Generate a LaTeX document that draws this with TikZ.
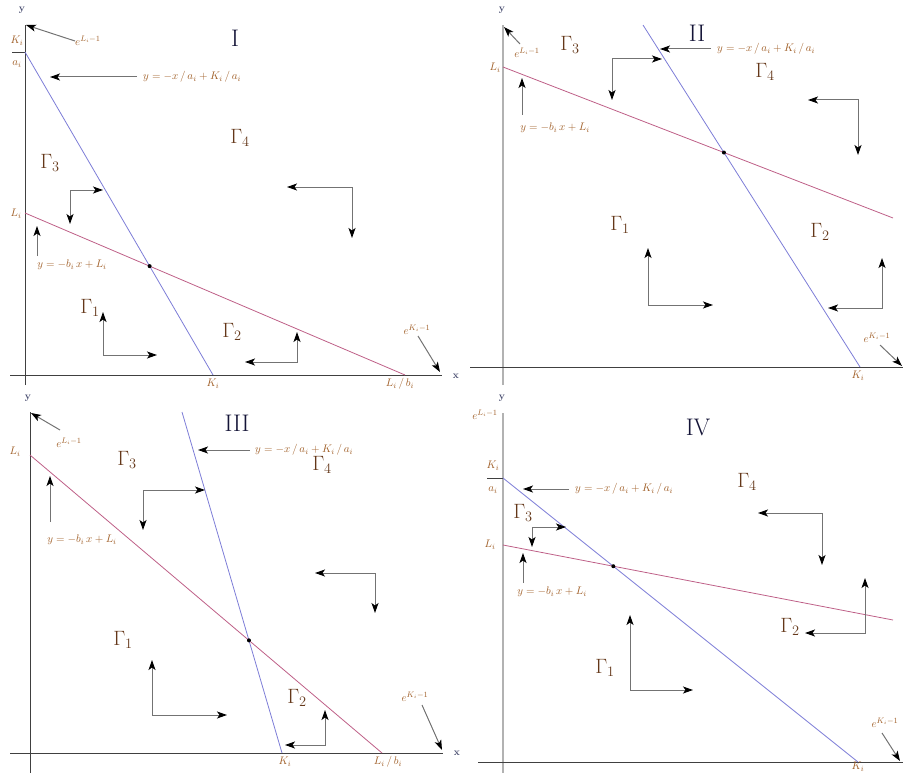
\documentclass[tikz,border=0pt]{standalone}
\usepackage{amsmath, amssymb}
\usepackage{tikz}
\usetikzlibrary{arrows.meta, calc}
\usepackage{xcolor}
\definecolor{kblue}{RGB}{125,125,215}
\definecolor{lmag}{RGB}{190,95,135}
\definecolor{labc}{RGB}{160,95,40}
\definecolor{regc}{RGB}{100,55,25}
\definecolor{numc}{RGB}{20,20,55}
\definecolor{axc}{RGB}{70,75,110}

\begin{document}
\begin{tikzpicture}[x=1pt, y=-1pt,
    >={Stealth[length=10pt, width=7pt, inset=2.5pt, color=black]},
    axis/.style={draw=black!75, line width=0.8pt},
    gaxis/.style={draw=black!30, line width=2.6pt},
    kline/.style={draw=kblue, line width=0.8pt},
    lline/.style={draw=lmag, line width=0.8pt},
    tagarrow/.style={draw=black!55, line width=1pt, ->},
    pairarrow/.style={draw=black!55, line width=1pt, <->},
    lab/.style={text=labc, font=\fontsize{11}{12}\selectfont, inner sep=0pt},
    axlab/.style={text=axc, font=\fontsize{10}{12}\selectfont\bfseries, inner sep=0pt},
    reg/.style={text=regc, font=\fontsize{21}{24}\selectfont, inner sep=0pt},
    num/.style={text=numc, font=\fontsize{24}{26}\selectfont, inner sep=0pt},
    dot/.style={fill=black}]
  \useasboundingbox (0,0) rectangle (915,773);

  % ---------- panel I ----------
  \draw[axis] (25,385) -- (25,25);
  \draw[axis] (10,375) -- (442,375);
  \node[axlab] (yI) at (22,10) {y};
  \node[axlab] (xI) at (456,376) {x};
  \node[num] (numI) at (235,38) {I};
  \draw[axis] (12,52) -- (25,52);
  \node[lab] (kaI) at (17,41) {$K_i$};
  \node[lab] (aI) at (17,64) {$a_i$};
  \node[lab] (lI) at (16,214) {$L_i$};
  \node[lab] (kxI) at (213,384) {$K_i$};
  \node[lab] (lbxI) at (400,384) {$L_i\,/\,b_i$};
  \coordinate (kAI) at (25,52);  \coordinate (kBI) at (213,375);
  \coordinate (lAI) at (25,213); \coordinate (lBI) at (405,375);
  \draw[kline] (kAI) -- (kBI);
  \draw[lline] (lAI) -- (lBI);
  \fill[dot] (intersection of kAI--kBI and lAI--lBI) circle (2pt);
  \node[lab, anchor=west] (eLI) at (75,41) {$e^{L_i-1}$};
  \draw[tagarrow] (eLI.west) -- (26,25);
  \node[lab, anchor=west] (keqI) at (143,77) {$y=-x\,/\,a_i+K_i\,/\,a_i$};
  \draw[tagarrow] ([xshift=-6pt]keqI.west) -- (50,77);
  \node[lab] (leqI) at (72,265) {$y=-b_i\,x+L_i$};
  \draw[tagarrow] (37,256) -- (37,226);
  \node[lab] (eKI) at (417,330) {$e^{K_i-1}$};
  \draw[tagarrow] (418,336) -- (440,372);
  \node[reg] (g1I) at (90,308) {$\Gamma_1$};
  \node[reg] (g2I) at (232,332) {$\Gamma_2$};
  \node[reg] (g3I) at (50,163) {$\Gamma_3$};
  \node[reg] (g4I) at (240,138) {$\Gamma_4$};
  \draw[pairarrow] (70,224) |- (103,190);
  \draw[pairarrow] (287,187) -| (352,238);
  \draw[pairarrow] (103,312) |- (157,355);
  \draw[pairarrow] (297,332) |- (245,362);

  % ---------- panel II ----------
  \draw[gaxis] (503,385) -- (503,25);
  \draw[axis] (470,367) -- (903,367);
  \node[axlab] (yII) at (502,10) {y};
  \node[num] (numII) at (697,33) {II};
  \node[lab] (lII) at (495,68) {$L_i$};
  \node[lab] (kxII) at (858,376) {$K_i$};
  \coordinate (kAII) at (643,25);  \coordinate (kBII) at (860,367);
  \coordinate (lAII) at (503,67);  \coordinate (lBII) at (893,218);
  \draw[kline] (kAII) -- (kBII);
  \draw[lline] (lAII) -- (lBII);
  \fill[dot] (intersection of kAII--kBII and lAII--lBII) circle (2pt);
  \node[lab] (eLII) at (527,53) {$e^{L_i-1}$};
  \draw[tagarrow] (520,44) -- (504,27);
  \node[lab, anchor=west] (keqII) at (717,49) {$y=-x\,/\,a_i+K_i\,/\,a_i$};
  \draw[tagarrow] ([xshift=-6pt]keqII.west) -- (660,49);
  \node[lab] (leqII) at (555,128) {$y=-b_i\,x+L_i$};
  \draw[tagarrow] (522,115) -- (522,78);
  \node[lab] (eKII) at (877,338) {$e^{K_i-1}$};
  \draw[tagarrow] (880,345) -- (902,366);
  \node[reg] (g1II) at (620,225) {$\Gamma_1$};
  \node[reg] (g2II) at (820,232) {$\Gamma_2$};
  \node[reg] (g3II) at (570,45) {$\Gamma_3$};
  \node[reg] (g4II) at (765,72) {$\Gamma_4$};
  \draw[pairarrow] (612,100) |- (662,59);
  \draw[pairarrow] (808,100) -| (858,155);
  \draw[pairarrow] (648,248) |- (713,305);
  \draw[pairarrow] (882,258) |- (828,308);

  % ---------- panel III ----------
  \draw[axis] (30,773) -- (30,412);
  \draw[axis] (10,753) -- (443,753);
  \node[axlab] (yIII) at (28,398) {y};
  \node[axlab] (xIII) at (457,753) {x};
  \node[num] (numIII) at (237,423) {III};
  \node[lab] (lIII) at (15,452) {$L_i$};
  \node[lab] (kxIII) at (285,762) {$K_i$};
  \node[lab] (lbxIII) at (388,762) {$L_i\,/\,b_i$};
  \coordinate (kAIII) at (182,412); \coordinate (kBIII) at (282,753);
  \coordinate (lAIII) at (30,455);  \coordinate (lBIII) at (382,753);
  \draw[kline] (kAIII) -- (kBIII);
  \draw[lline] (lAIII) -- (lBIII);
  \fill[dot] (intersection of kAIII--kBIII and lAIII--lBIII) circle (2pt);
  \node[lab] (eLIII) at (69,443) {$e^{L_i-1}$};
  \draw[tagarrow] (60,430) -- (31,413);
  \node[lab, anchor=west] (keqIII) at (255,450) {$y=-x\,/\,a_i+K_i\,/\,a_i$};
  \draw[tagarrow] ([xshift=-5pt]keqIII.west) -- (198,450);
  \node[lab] (leqIII) at (82,540) {$y=-b_i\,x+L_i$};
  \draw[tagarrow] (50,522) -- (50,476);
  \node[lab] (eKIII) at (415,697) {$e^{K_i-1}$};
  \draw[tagarrow] (422,705) -- (442,750);
  \node[reg] (g1III) at (123,640) {$\Gamma_1$};
  \node[reg] (g2III) at (297,698) {$\Gamma_2$};
  \node[reg] (g3III) at (127,460) {$\Gamma_3$};
  \node[reg] (g4III) at (322,465) {$\Gamma_4$};
  \draw[pairarrow] (143,530) |- (205,490);
  \draw[pairarrow] (315,573) -| (375,613);
  \draw[pairarrow] (152,660) |- (227,715);
  \draw[pairarrow] (325,710) |- (285,745);

  % ---------- panel IV ----------
  \draw[gaxis] (503,773) -- (503,413);
  \draw[axis] (478,762) -- (903,762);
  \node[axlab] (yIV) at (502,398) {y};
  \node[lab] (eLIV) at (485,415) {$e^{L_i-1}$};
  \node[num] (numIV) at (698,427) {IV};
  \draw[axis] (487,478) -- (503,478);
  \node[lab] (kaIV) at (493,466) {$K_i$};
  \node[lab] (aIV) at (493,490) {$a_i$};
  \node[lab] (lIV) at (490,545) {$L_i$};
  \node[lab] (kxIV) at (858,767) {$K_i$};
  \coordinate (kAIV) at (503,478); \coordinate (kBIV) at (858,762);
  \coordinate (lAIV) at (503,545); \coordinate (lBIV) at (893,620);
  \draw[kline] (kAIV) -- (kBIV);
  \draw[lline] (lAIV) -- (lBIV);
  \fill[dot] (intersection of kAIV--kBIV and lAIV--lBIV) circle (2pt);
  \node[lab, anchor=west] (keqIV) at (575,489) {$y=-x\,/\,a_i+K_i\,/\,a_i$};
  \draw[tagarrow] ([xshift=-6pt]keqIV.west) -- (523,489);
  \node[lab] (leqIV) at (552,592) {$y=-b_i\,x+L_i$};
  \draw[tagarrow] (523,583) -- (523,553);
  \node[lab] (eKIV) at (885,723) {$e^{K_i-1}$};
  \draw[tagarrow] (882,733) -- (900,761);
  \node[reg] (g1IV) at (605,668) {$\Gamma_1$};
  \node[reg] (g2IV) at (790,627) {$\Gamma_2$};
  \node[reg] (g3IV) at (523,513) {$\Gamma_3$};
  \node[reg] (g4IV) at (747,482) {$\Gamma_4$};
  \draw[pairarrow] (532,547) |- (566,527);
  \draw[pairarrow] (758,513) -| (822,565);
  \draw[pairarrow] (630,615) |- (693,690);
  \draw[pairarrow] (865,578) |- (805,633);
\end{tikzpicture}
\end{document}
